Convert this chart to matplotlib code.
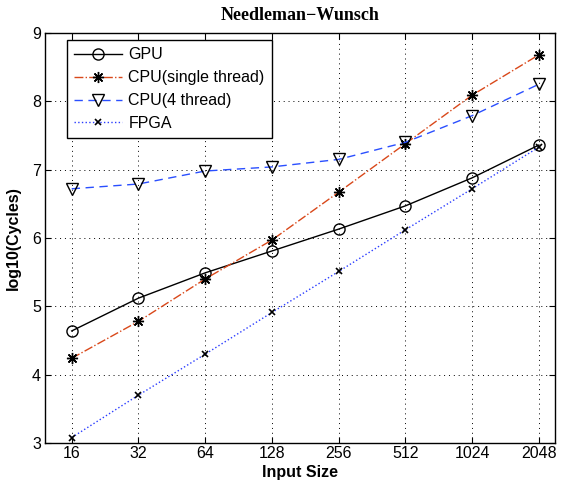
import matplotlib.pyplot as plt
import numpy as np

INPUT_SIZES = ["16", "32", "64", "128", "256", "512", "1024", "2048"]

GPU = [4.64, 5.12, 5.49, 5.81, 6.13, 6.47, 6.88, 7.36]
CPU_SINGLE = [4.24, 4.78, 5.40, 5.97, 6.67, 7.38, 8.09, 8.68]
CPU_4THREAD = [6.72, 6.79, 6.98, 7.04, 7.15, 7.40, 7.79, 8.25]
FPGA = [3.08, 3.70, 4.30, 4.91, 5.51, 6.12, 6.72, 7.33]

plt.rcParams["font.family"] = ["Liberation Sans", "DejaVu Sans"]

fig = plt.figure(figsize=(5.64, 4.87), dpi=100)
ax = fig.add_axes([0.0798, 0.0903, 0.904, 0.842])

x = np.arange(len(INPUT_SIZES))
asterisk = (8, 2, 0)

ax.plot(x, GPU, color="black", linestyle="-", linewidth=1.0,
        marker="o", markersize=8, markerfacecolor="none",
        markeredgecolor="black", markeredgewidth=1.0, label="GPU")
ax.plot(x, CPU_SINGLE, color="#d9481a", linestyle="-.", linewidth=1.0,
        marker=asterisk, markersize=8, markeredgecolor="black",
        markeredgewidth=1.0, label="CPU(single thread)")
ax.plot(x, CPU_4THREAD, color="#2a4fff", linestyle=(0, (6, 4)), linewidth=1.0,
        marker="v", markersize=9, markerfacecolor="none",
        markeredgecolor="black", markeredgewidth=1.0, label="CPU(4 thread)")
ax.plot(x, FPGA, color="#2a3cff", linestyle=":", linewidth=1.0,
        marker="x", markersize=5, markeredgecolor="black",
        markeredgewidth=1.2, label="FPGA")

ax.set_xlim(-0.4, 7.24)
ax.set_ylim(3, 9)
ax.set_xticks(x)
ax.set_xticklabels(INPUT_SIZES)
ax.set_yticks(np.arange(3, 10, 1))
ax.tick_params(direction="in", labelsize=11.5, length=4, top=True, right=True)
ax.tick_params(axis="x", pad=2)
ax.tick_params(axis="y", pad=3)
ax.grid(True, color="black", linestyle=(0, (1, 4)), linewidth=0.7)
for spine in ax.spines.values():
    spine.set_linewidth(1.0)

ax.set_xlabel("Input Size", fontsize=11.5, fontweight="bold", labelpad=3)
ax.set_ylabel("log10(Cycles)", fontsize=11.5, fontweight="bold", labelpad=8)
ax.set_title("Needleman\u2212Wunsch", fontsize=13, fontweight="bold",
             family=["Liberation Serif", "DejaVu Serif"], pad=9)

leg = ax.legend(loc="upper left", bbox_to_anchor=(0.043, 0.983),
                borderaxespad=0, fontsize=11.5, frameon=True, fancybox=False,
                edgecolor="black", framealpha=1.0, handlelength=3.0,
                handletextpad=0.4, labelspacing=0.5, borderpad=0.45)
leg.get_frame().set_linewidth(1.0)

fig.savefig("out.png", dpi=100)
